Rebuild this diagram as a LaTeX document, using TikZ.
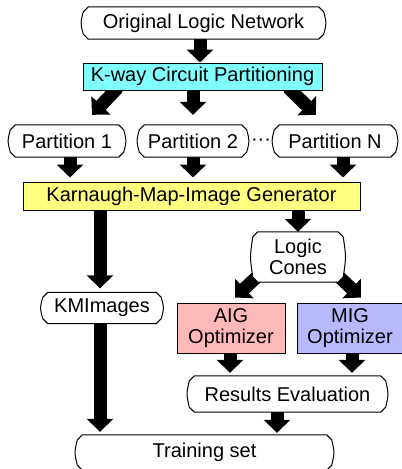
\documentclass[tikz,border=0pt]{standalone}
\usepackage{fontspec}
\setmainfont{Liberation Sans}
\usetikzlibrary{arrows.meta,calc,backgrounds}
\pgfdeclarelayer{boxes}
\pgfsetlayers{background,boxes,main}
\definecolor{kwaycyan}{HTML}{80FFFF}
\definecolor{kmyellow}{HTML}{FFFF80}
\definecolor{aigpink}{HTML}{FFB8B8}
\definecolor{migblue}{HTML}{B8B8FF}
\tikzset{
  lbl/.style={font=\fontsize{20}{21.5}\selectfont, align=center, inner sep=0pt},
  oct/.style={lbl, rectangle},
  flat/.style={lbl, draw, line width=1pt, rectangle},
  big/.style={line width=13pt, -{Triangle[width=26pt,length=13pt]}},
  octline/.style={fill=white, draw, line width=1pt, line join=round}
}
\begin{document}
\begin{tikzpicture}[x=1pt,y=-1pt]
\useasboundingbox (0,0) rectangle (402,469);
\begin{scope}
\clip (0,0) rectangle (402,469);
% process boxes
\node[oct, minimum width=243pt, minimum height=32pt] (orig) at (203.5,23) {Original Logic Network};
\node[flat, fill=kwaycyan, minimum width=239pt, minimum height=27pt] (kway) at (202.5,76.5) {K-way Circuit Partitioning};
\node[oct, minimum width=116pt, minimum height=32pt] (p1) at (67,141) {Partition 1};
\node[oct, minimum width=110pt, minimum height=32pt] (p2) at (193,141) {Partition 2};
\node[oct, minimum width=124pt, minimum height=32pt] (pN) at (335,141) {Partition N};
\node[lbl] (dots) at (261,142) {···};
\node[flat, fill=kmyellow, minimum width=337pt, minimum height=28pt] (kmig) at (191.5,196) {Karnaugh-Map-Image Generator};
\node[oct, minimum width=93pt, minimum height=50pt] (cones) at (298,257) {Logic\\Cones};
\node[oct, minimum width=121pt, minimum height=31pt] (kmi) at (102,308) {KMImages};
\node[flat, fill=aigpink, minimum width=108pt, minimum height=50pt] (aig) at (231,328) {AIG\\Optimizer};
\node[flat, fill=migblue, minimum width=106pt, minimum height=50pt] (mig) at (350,328) {MIG\\Optimizer};
\node[oct, minimum width=199pt, minimum height=36pt] (res) at (287.5,394) {Results Evaluation};
\node[oct, minimum width=257pt, minimum height=35pt] (train) at (204.5,452.5) {Training set};
% octagonal outlines with slightly bowed sides
\begin{pgfonlayer}{boxes}
\foreach \n in {orig,p1,p2,pN,cones,kmi,res,train}{
  \path[octline]
    ($(\n.north west)+(6.5pt,0pt)$) -- ($(\n.north east)+(-6.5pt,0pt)$)
    -- ($(\n.north east)+(-1.5pt,-5pt)$)
    .. controls ($(\n.east)+(1.5pt,0pt)$) .. ($(\n.south east)+(-1.5pt,5pt)$)
    -- ($(\n.south east)+(-6.5pt,0pt)$) -- ($(\n.south west)+(6.5pt,0pt)$)
    -- ($(\n.south west)+(1.5pt,5pt)$)
    .. controls ($(\n.west)+(-1.5pt,0pt)$) .. ($(\n.north west)+(1.5pt,-5pt)$)
    -- cycle;
}
\end{pgfonlayer}
% block arrows behind the boxes
\begin{scope}[on background layer]
\draw[big] ($(orig.south)+(-3.5,0)$) -- ($(kway.north)+(-2.5,0)$);
\draw[big] ($(kway.south)+(-84.5,-3)$) -- ($(p1.north)+(25,-10)$);
\draw[big] ($(kway.south)+(-9.5,0)$) -- ($(p2.north)+(0,-10)$);
\draw[big] ($(kway.south)+(85.5,-3)$) -- ($(pN.north)+(-19,-10)$);
\draw[big] ($(p1.south)+(3,0)$) -- ($(kmig.north)+(-121.5,-4)$);
\draw[big] (p2.south) -- ($(kmig.north)+(1.5,-4)$);
\draw[big] ($(pN.south)+(8,0)$) -- ($(kmig.north)+(151.5,-4)$);
\draw[big] ($(kmig.south)+(-91.5,0)$) -- ($(kmi.north)+(-2,-4)$);
\draw[big] ($(kmig.south)+(106.5,0)$) -- (cones.north);
\draw[big] ($(cones.center)+(-36,15)$) -- ($(aig.north)+(4,-5)$);
\draw[big] ($(cones.center)+(36,15)$) -- ($(mig.north)+(11,-5)$);
\draw[big] ($(aig.south)+(-1,0)$) -- ($(res.north)+(-57.5,-3)$);
\draw[big] ($(mig.south)+(2,0)$) -- ($(res.north)+(64.5,-3)$);
\draw[big] ($(res.south)+(-10.5,0)$) -- ($(train.north)+(72.5,-2)$);
\draw[big] ($(kmi.south)+(-2,0)$) -- ($(train.north)+(-104.5,-3)$);
\end{scope}
\end{scope}
\end{tikzpicture}
\end{document}
